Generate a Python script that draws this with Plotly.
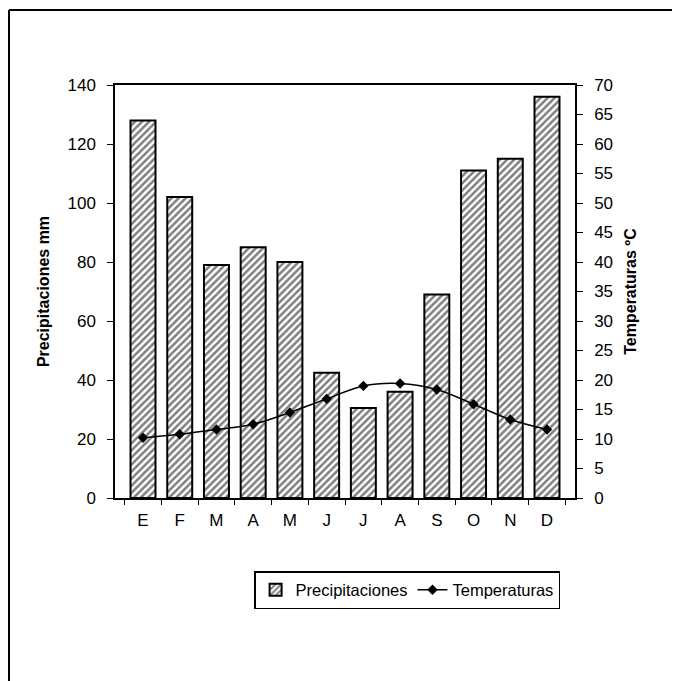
import plotly.graph_objects as go

months = ["E", "F", "M", "A", "M ", "J", "J ", "A ", "S", "O", "N", "D"]
month_labels = ["E", "F", "M", "A", "M", "J", "J", "A", "S", "O", "N", "D"]
precip_mm = [128, 102, 79, 85, 80, 42.5, 30.5, 36, 69, 111, 115, 136]
temp_c = [10.2, 10.8, 11.6, 12.5, 14.5, 16.8, 19.0, 19.4, 18.4, 15.9, 13.3, 11.6]
left_ticks = [0, 20, 40, 60, 80, 100, 120, 140]
right_ticks = list(range(0, 75, 5))

FONT = "Liberation Sans, Arial, sans-serif"
W, H = 672, 673
L, R, T, B = 107, 105, 77, 183
PW, PH = W - L - R, H - T - B

fig = go.Figure()
fig.add_trace(go.Bar(
    x=months, y=precip_mm, name="Precipitaciones",
    marker=dict(color="white", line=dict(color="black", width=2),
                pattern=dict(shape="/", fgcolor="black", bgcolor="white", size=5, solidity=0.5)),
    width=0.68,
))
fig.add_trace(go.Scatter(
    x=months, y=temp_c, name="Temperaturas", yaxis="y2",
    mode="lines+markers", line=dict(color="black", width=1.5, shape="spline"),
    marker=dict(symbol="diamond", size=8, color="black"),
))

fig.update_layout(
    width=W, height=H,
    margin=dict(l=L, r=R, t=T, b=B),
    paper_bgcolor="white", plot_bgcolor="white",
    font=dict(family=FONT, size=17, color="black"),
    showlegend=True,
    legend=dict(orientation="h", x=0.635, xanchor="center", y=-0.223, yanchor="middle",
                bordercolor="black", borderwidth=1.5, bgcolor="white",
                font=dict(size=16.5), itemwidth=30, tracegroupgap=0),
    xaxis=dict(tickmode="array", tickvals=months, ticktext=month_labels,
               showline=True, linecolor="black", linewidth=1.5, mirror=True,
               ticks="outside", ticklen=5, tickcolor="black", tickson="boundaries",
               ticklabelstandoff=6, showgrid=False, tickfont=dict(size=17)),
    yaxis=dict(range=[0, 140], tickvals=left_ticks, showline=True, linecolor="black",
               linewidth=1.5, ticks="outside", ticklen=6, tickcolor="black",
               ticklabelstandoff=8, showgrid=False, zeroline=False, tickfont=dict(size=17),
               title=dict(text="<b>Precipitaciones mm</b>", font=dict(size=16), standoff=14)),
    yaxis2=dict(range=[0, 70], tickvals=right_ticks, overlaying="y", side="right",
                showline=True, linecolor="black", linewidth=1.5, ticks="outside",
                ticklen=6, tickcolor="black", ticklabelstandoff=8, showgrid=False,
                zeroline=False, tickfont=dict(size=17),
                title=dict(text="<b>Temperaturas ºC</b>", font=dict(size=16), standoff=13)),
)

# outer frame of the scanned figure (left and top edges)
frame_top = (T + PH - 2) / PH
frame_left = -(L - 1) / PW
fig.add_shape(type="line", xref="paper", yref="paper", x0=frame_left, x1=(W - L) / PW,
              y0=frame_top, y1=frame_top, line=dict(color="black", width=2))
fig.add_shape(type="line", xref="paper", yref="paper", x0=frame_left, x1=frame_left,
              y0=frame_top, y1=-B / PH, line=dict(color="black", width=2))

fig.write_html("out.html")
